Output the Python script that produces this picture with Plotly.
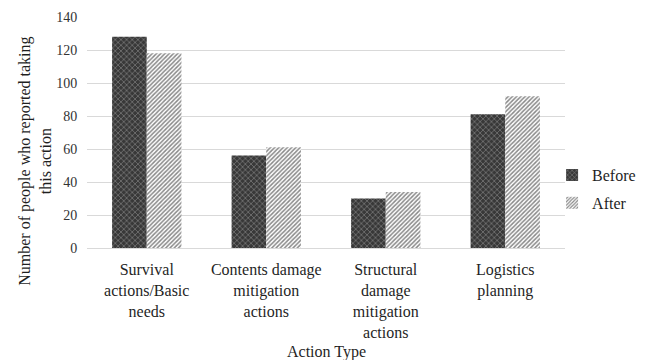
import plotly.graph_objects as go

categories = [
    "Survival<br>actions/Basic<br>needs",
    "Contents damage<br>mitigation<br>actions",
    "Structural<br>damage<br>mitigation<br>actions",
    "Logistics<br>planning",
]
before = [128, 56, 30, 81]
after = [118, 61, 34, 92]
y_ticks = [0, 20, 40, 60, 80, 100, 120, 140]

SERIF = "Liberation Serif, Times New Roman, serif"
TEXT = "#1f1f1f"

fig = go.Figure()
fig.add_trace(go.Bar(
    name="Before", x=categories, y=before, legendgroup="b",
    marker=dict(
        color="#3a3a3a",
        line=dict(width=0),
        pattern=dict(shape="x", bgcolor="#383838", fgcolor="#f0f0f0",
                     size=4, solidity=0.25),
    ),
))
fig.add_trace(go.Bar(
    name="After", x=categories, y=after, legendgroup="a",
    marker=dict(
        color="white",
        line=dict(width=0),
        pattern=dict(shape="/", bgcolor="white", fgcolor="#111111",
                     size=3, solidity=0.5),
    ),
))

# axis titles drawn as annotations so their positions stay fixed
fig.add_annotation(
    text="Number of people who reported taking<br>this action",
    xref="paper", yref="paper", x=-0.108, y=0.375,
    xanchor="center", yanchor="middle", textangle=-90,
    showarrow=False, font=dict(family=SERIF, size=16, color=TEXT),
)
fig.add_annotation(
    text="Action Type",
    xref="paper", yref="paper", x=0.5, y=-0.452,
    xanchor="center", yanchor="middle",
    showarrow=False, font=dict(family=SERIF, size=16, color=TEXT),
)

fig.update_layout(
    width=660, height=360,
    margin=dict(l=87, r=95, t=17, b=112, autoexpand=False),
    paper_bgcolor="white", plot_bgcolor="white",
    barmode="group", bargap=0.42, bargroupgap=0,
    font=dict(family=SERIF, size=16, color=TEXT),
    legend=dict(
        x=0.973, y=0.255, xanchor="left", yanchor="middle",
        bgcolor="rgba(0,0,0,0)",
        font=dict(family=SERIF, size=16, color=TEXT),
        traceorder="grouped", tracegroupgap=4, itemwidth=30,
    ),
    xaxis=dict(
        tickfont=dict(family=SERIF, size=16, color=TEXT),
        ticks="outside", ticklen=7, tickcolor="rgba(0,0,0,0)",
        showline=True, linecolor="#d9d9d9", linewidth=1,
        automargin=False,
    ),
    yaxis=dict(
        range=[0, 140], tickvals=y_ticks,
        tickfont=dict(family=SERIF, size=14, color="#333333"),
        ticks="outside", ticklen=6, tickcolor="rgba(0,0,0,0)",
        showgrid=True, gridcolor="#d9d9d9", gridwidth=1,
        zeroline=False,
        automargin=False,
    ),
)

fig.write_html("out.html")
